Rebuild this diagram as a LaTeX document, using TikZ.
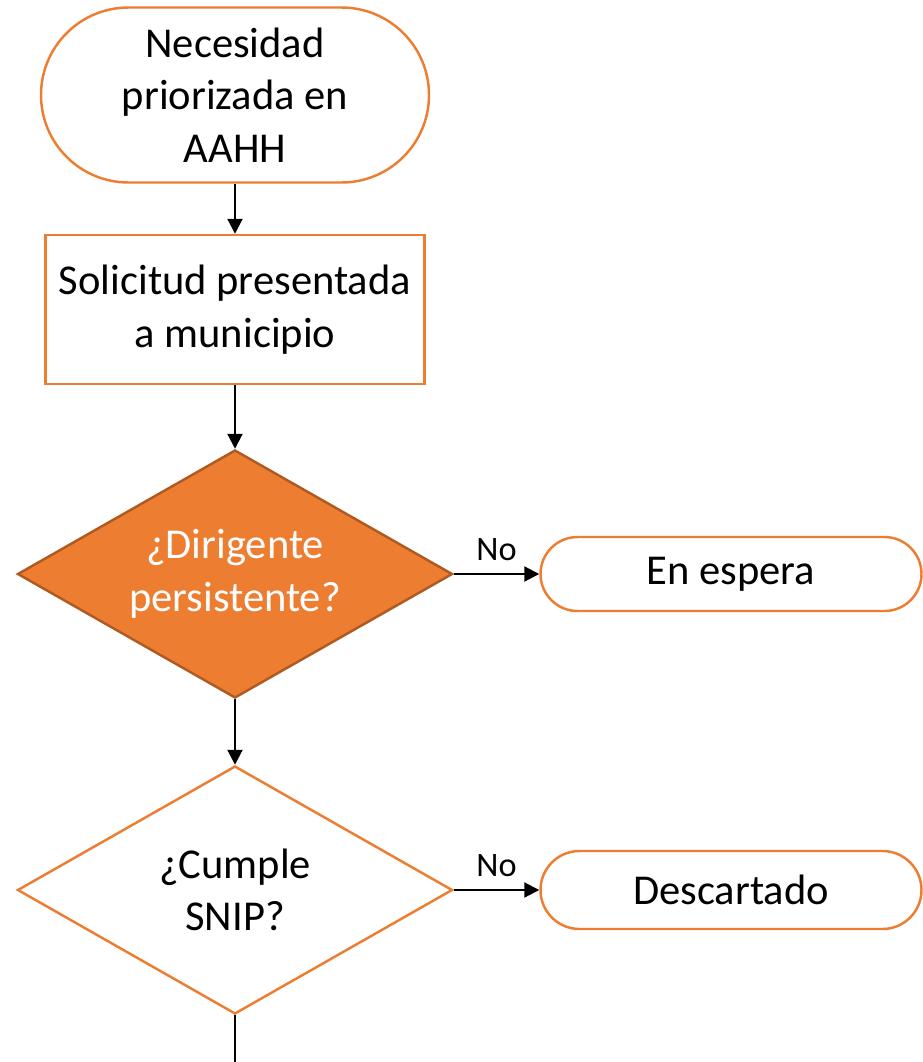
\documentclass[tikz,border=0pt]{standalone}
\usepackage{fontspec}
\setmainfont{Carlito}
\usetikzlibrary{arrows.meta, positioning, shapes.geometric}

\definecolor{accent}{HTML}{ED7D31}
\definecolor{accentdark}{HTML}{AE5A21}

\begin{document}
\begin{tikzpicture}[
    every node/.style={font=\fontsize{24.2}{30}\selectfont, align=center, inner sep=0pt},
    flow/.style={draw=black, line width=1.2pt, -{Triangle[length=0.3cm, width=0.3cm]}},
    plain/.style={draw=black, line width=1.2pt},
    terminal/.style={draw=accent, line width=1.4pt, fill=white, rectangle},
    stepbox/.style={draw=accent, line width=1.4pt, fill=white, rectangle},
    decision/.style={diamond, draw=accent, line width=1.4pt, fill=white, aspect=1.754,
        minimum width=8.7cm, minimum height=4.96cm},
    answer/.style={font=\fontsize{19.5}{24}\selectfont, above=0.25cm}
]
    \useasboundingbox (0,0) rectangle (18.44,-21.24);

    % Start
    \node[terminal, rounded corners=1.75cm, minimum width=7.76cm, minimum height=3.5cm]
        (need) at (4.70,-1.90) {Necesidad\\priorizada en\\AAHH};

    % Request
    \node[stepbox, minimum width=7.58cm, minimum height=2.98cm]
        (request) at (4.70,-6.19) {Solicitud presentada\\a municipio};

    % Decisions
    \node[decision, fill=accent, draw=accentdark, text=white]
        (leader) at (4.70,-11.48) {¿Dirigente\\persistente?};
    \node[decision] (snip) at (4.70,-17.80) {¿Cumple\\SNIP?};

    % Outcomes
    \node[terminal, rounded corners=0.74cm, minimum width=7.62cm, minimum height=1.48cm]
        (wait) at (14.62,-11.48) {En espera};
    \node[terminal, rounded corners=0.78cm, minimum width=7.62cm, minimum height=1.56cm]
        (discard) at (14.62,-17.80) {Descartado};

    \coordinate (next) at (4.70,-21.24);

    % Connectors
    \draw[flow] (need) -- (request);
    \draw[flow] (request) -- (leader);
    \draw[flow] (leader) -- (snip);
    \draw[flow] (leader) -- node[answer] {No} (wait);
    \draw[flow] (snip) -- node[answer] {No} (discard);
    \draw[plain] (snip) -- (next);
\end{tikzpicture}
\end{document}
